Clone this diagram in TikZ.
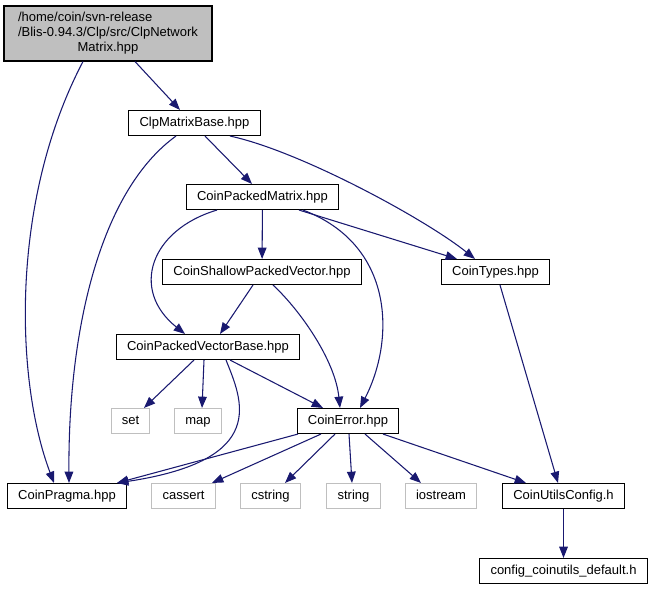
\documentclass[tikz,border=0pt]{standalone}
\usepackage{fontspec}
\setmainfont{Liberation Sans}
\usetikzlibrary{arrows.meta,calc}
\definecolor{depblue}{RGB}{25,25,112}
\definecolor{grey75}{RGB}{191,191,191}

\begin{document}
\begin{tikzpicture}[x=0.75pt,y=0.75pt,yscale=-1,xscale=1,
    box/.style={draw=black,fill=white,line width=0.8pt,inner xsep=8pt,inner ysep=0pt,
      minimum height=18.75pt,text height=7pt,text depth=2.2pt,font=\fontsize{9.75}{11}\selectfont},
    sysbox/.style={box,draw=grey75},
    dep/.style={draw=depblue,line width=0.8pt,-{Triangle[length=8.5pt,width=6.5pt]}}]
    \useasboundingbox (0,0) rectangle (655,589);
    % files
    \node [box,fill=grey75,minimum width=156pt,minimum height=41.25pt,text height=,text depth=] (root) at (108,33.5)
      {\begin{tabular}{@{}l@{}}/home/coin/svn-release\\/Blis-0.94.3/Clp/src/ClpNetwork\\\multicolumn{1}{@{}c@{}}{Matrix.hpp}\end{tabular}};
    \node [box] (matbase) at (194.5,123) {ClpMatrixBase.hpp};
    \node [box] (pmatrix) at (262.5,197) {CoinPackedMatrix.hpp};
    \node [box] (shallow) at (262,272) {CoinShallowPackedVector.hpp};
    \node [box] (types) at (495.5,272) {CoinTypes.hpp};
    \node [box] (pvbase) at (208,347) {CoinPackedVectorBase.hpp};
    \node [sysbox] (set) at (130.5,421) {set};
    \node [sysbox] (map) at (198,421) {map};
    \node [box] (error) at (348,421) {CoinError.hpp};
    \node [box] (pragma) at (67,496) {CoinPragma.hpp};
    \node [sysbox] (cassert) at (183.5,496) {cassert};
    \node [sysbox] (cstring) at (270.5,496) {cstring};
    \node [sysbox] (string) at (353.5,496) {string};
    \node [sysbox] (iostream) at (441,496) {iostream};
    \node [box] (uconfig) at (563.5,496) {CoinUtilsConfig.h};
    \node [box] (udefault) at (563.5,571) {config\_coinutils\_default.h};
    % includes
    \draw [dep] ($(root.south)+(27,0)$) -- ($(matbase.north)+(-14.5,0)$);
    \draw [dep] ($(root.south)+(-25,0)$) .. controls +(-73,139) and +(-39,-103) .. ($(pragma.north)+(-13,0)$);
    \draw [dep] ($(matbase.south)+(10.5,0)$) -- ($(pmatrix.north)+(-10.5,0)$);
    \draw [dep] ($(matbase.south)+(35.5,0)$) .. controls +(70,15) and +(-50,-40) .. ($(types.north)+(-20.5,0)$);
    \draw [dep] ($(matbase.south)+(-18.5,0)$) .. controls +(-76,55) and +(-1,-153) .. ($(pragma.north)+(2,0)$);
    \draw [dep] (pmatrix) -- (shallow);
    \draw [dep] ($(pmatrix.south)+(-45.5,0)$) .. controls +(-67,20) and +(-55,-44) .. ($(pvbase.north)+(-23,0)$);
    \draw [dep] ($(pmatrix.south)+(36.5,0)$) -- ($(types.north)+(-38.5,0)$);
    \draw [dep] ($(pmatrix.south)+(40.5,0)$) .. controls +(92,35) and +(35,-68) .. ($(error.north)+(12,0)$);
    \draw [dep] ($(shallow.south)+(-9,0)$) -- ($(pvbase.north)+(12,0)$);
    \draw [dep] ($(shallow.south)+(11,0)$) .. controls +(27,25) and +(-5,-48) .. ($(error.north)+(-8,0)$);
    \draw [dep] ($(types.south)+(4.5,0)$) -- ($(uconfig.north)+(-5.5,0)$);
    \draw [dep] ($(pvbase.south)+(-14,0)$) -- ($(set.north)+(13.5,0)$);
    \draw [dep] ($(pvbase.south)+(-4,0)$) -- ($(map.north)+(4,0)$);
    \draw [dep] ($(pvbase.south)+(22,0)$) -- ($(error.north)+(-25,0)$);
    \draw [dep] ($(pvbase.south)+(18,0)$) .. controls +(16,40) and +(153,-23) .. ($(pragma.north)+(50,0)$);
    \draw [dep] ($(error.south)+(-50,0)$) -- ($(pragma.north)+(50,0)$);
    \draw [dep] ($(error.south)+(-27,0)$) -- ($(cassert.north)+(28.5,0)$);
    \draw [dep] ($(error.south)+(-13,0)$) -- ($(cstring.north)+(14.5,0)$);
    \draw [dep] ($(error.south)+(1,0)$) -- ($(string.north)+(-1.5,0)$);
    \draw [dep] ($(error.south)+(17,0)$) -- ($(iostream.north)+(-20,0)$);
    \draw [dep] ($(error.south)+(35,0)$) -- ($(uconfig.north)+(-37.5,0)$);
    \draw [dep] (uconfig) -- (udefault);
\end{tikzpicture}
\end{document}
